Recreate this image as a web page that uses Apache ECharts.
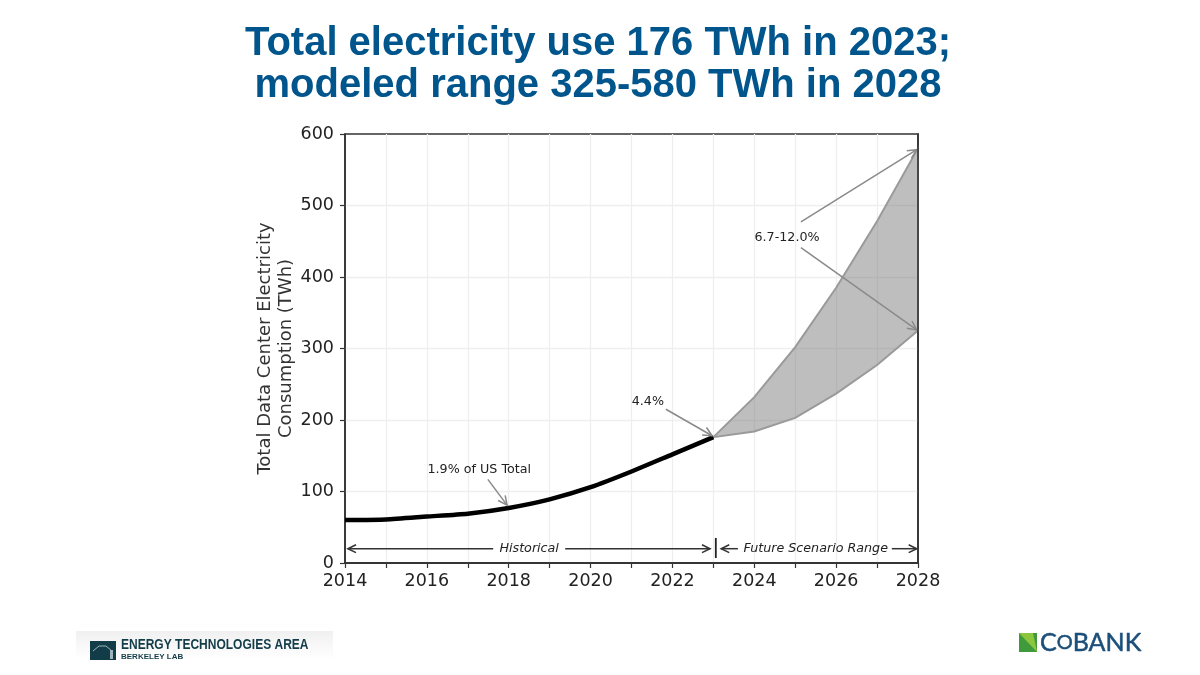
<!DOCTYPE html>
<html><head><meta charset="utf-8">
<style>html,body{margin:0;padding:0;background:#fff}#c{width:1200px;height:675px}</style>
<script src="https://cdn.jsdelivr.net/npm/echarts@6/dist/echarts.min.js"></script>
</head><body><div id="c"></div>
<script>
const histYears = [2014,2015,2016,2017,2018,2019,2020,2021,2022,2023];
const histValues = [60,61,65,69,77,89,106,128,152,176];
const futureYears = [2023,2024,2025,2026,2027,2028];
const lowValues = [176,184,203,237,277,325];
const highValues = [176,232,302,385,478,580];
const grayArrows = [
  [2017.49,117,2017.96,81],
  [2021.84,215,2022.97,178],
  [2025.14,477,2027.97,578],
  [2025.14,441,2027.97,326]
];
const rangeArrows = [
  [2017.62,20,2014.07,20],
  [2019.38,20,2022.92,20],
  [2023.6,20,2023.19,20],
  [2027.36,20,2027.97,20]
];
const notes = [
  ['1.9% of US Total',2017.28,131,false],
  ['4.4%',2021.4,226,false],
  ['6.7-12.0%',2024.8,455,false],
  ['Historical',2018.5,20,true],
  ['Future Scenario Range',2025.5,20,true]
];
const divider = [2023.06,7,2023.06,35];

function arrowRender(color, width, head){
  return function(params, api){
    const a = api.coord([api.value(0),api.value(1)]);
    const b = api.coord([api.value(2),api.value(3)]);
    const t = Math.atan2(b[1]-a[1],b[0]-a[0]);
    const p = s => [b[0]-head*Math.cos(t+s*0.45), b[1]-head*Math.sin(t+s*0.45)];
    return {type:'group',children:[
      {type:'line',shape:{x1:a[0],y1:a[1],x2:b[0],y2:b[1]},style:{stroke:color,lineWidth:width}},
      {type:'polyline',shape:{points:[p(1),b,p(-1)]},style:{stroke:color,lineWidth:width,fill:null}}
    ]};
  };
}
const chart = echarts.init(document.getElementById('c'),null,{renderer:'canvas'});
const bandData = futureYears.map((y,i)=>[y,lowValues[i],highValues[i]]);
const frameLine = {show:true,lineStyle:{color:'#333',width:1.6}};
chart.setOption({
  animation:false,
  backgroundColor:'#fff',
  title:{
    text:'Total electricity use 176 TWh in 2023;\nmodeled range 325-580 TWh in 2028',
    left:593,top:18,textAlign:'center',
    textStyle:{fontFamily:'Liberation Sans',fontWeight:'bold',fontSize:40,lineHeight:42,color:'#00558c'}
  },
  grid:{left:345,right:282,top:134,bottom:112,show:true,borderColor:'#333',borderWidth:1.6,backgroundColor:'transparent'},
  xAxis:[{
    type:'value',min:2014,max:2028,interval:1,
    axisLine:frameLine,
    axisTick:{show:true,length:5,lineStyle:{color:'#333',width:1.2}},
    splitLine:{show:true,showMinLine:false,showMaxLine:false,lineStyle:{color:'#eeeeee',width:1.3}},
    axisLabel:{fontFamily:'DejaVu Sans',fontSize:17.5,color:'#222',margin:9,showMinLabel:true,showMaxLabel:true,
      formatter:v=>v%2===0?String(v):''}
  },{
    type:'value',position:'top',min:2014,max:2028,interval:14,z:10,
    axisLine:frameLine,axisTick:{show:false},axisLabel:{show:false},splitLine:{show:false}
  }],
  yAxis:[{
    type:'value',min:0,max:600,interval:100,
    name:'Total Data Center Electricity\nConsumption (TWh)',
    nameLocation:'middle',nameGap:46,nameRotate:90,
    nameTextStyle:{fontFamily:'DejaVu Sans',fontSize:18,color:'#333',lineHeight:21},
    axisLine:frameLine,
    axisTick:{show:true,length:5,lineStyle:{color:'#333',width:1.2}},
    splitLine:{show:true,showMinLine:false,showMaxLine:false,lineStyle:{color:'#eeeeee',width:1.3}},
    axisLabel:{fontFamily:'DejaVu Sans',fontSize:17.5,color:'#222',margin:11}
  },{
    type:'value',position:'right',min:0,max:600,interval:600,z:10,
    axisLine:frameLine,axisTick:{show:false},axisLabel:{show:false},splitLine:{show:false}
  }],
  series:[
    {type:'custom',name:'Scenario range',coordinateSystem:'cartesian2d',data:[0],z:3,clip:false,
      encode:{x:[],y:[]},
      renderItem:(p,api)=>{
        const top = bandData.map(d=>api.coord([d[0],d[2]]));
        const bot = bandData.map(d=>api.coord([d[0],d[1]])).reverse();
        return {type:'polygon',shape:{points:top.concat(bot)},
          style:{fill:'rgba(120,120,120,0.48)',stroke:'#9a9a9a',lineWidth:2}};
      }},
    {type:'line',name:'Historical',data:histYears.map((y,i)=>[y,histValues[i]]),symbol:'none',z:5,
      lineStyle:{color:'#000',width:4.5},smooth:0.2},
    {type:'custom',name:'Callouts',coordinateSystem:'cartesian2d',data:grayArrows,z:6,clip:false,
      encode:{x:[0,2],y:[1,3]},renderItem:arrowRender('#8a8a8a',1.5,10)},
    {type:'custom',name:'Spans',coordinateSystem:'cartesian2d',data:rangeArrows,z:6,clip:false,
      encode:{x:[0,2],y:[1,3]},renderItem:arrowRender('#333',1.5,9)},
    {type:'line',name:'Divider',data:[[divider[0],divider[1]],[divider[2],divider[3]]],symbol:'none',z:6,
      lineStyle:{color:'#222',width:1.8}},
    {type:'custom',name:'Notes',coordinateSystem:'cartesian2d',data:notes.map(n=>[n[1],n[2]]),z:7,clip:false,
      encode:{x:0,y:1},
      renderItem:(p,api)=>{
        const n = notes[p.dataIndex], c = api.coord([n[1],n[2]]);
        return {type:'text',style:{text:n[0],x:c[0],y:c[1],align:'center',verticalAlign:'middle',
          font:(n[3]?'italic ':'')+'12.7px "DejaVu Sans"',fill:'#222'}};
      }}
  ],
  graphic:[
    {type:'rect',shape:{x:76,y:631,width:257,height:28},z:1,
      style:{fill:new echarts.graphic.LinearGradient(0,0,0,1,[{offset:0,color:'#f0f0f0'},{offset:1,color:'#ffffff'}])}},
    {type:'rect',shape:{x:90,y:641,width:26,height:19},z:2,style:{fill:'#123c48'}},
    {type:'polyline',shape:{points:[[93,651],[99,646],[106,646],[112,651]]},z:3,style:{stroke:'#9fb4ba',lineWidth:1,fill:null}},
    {type:'rect',shape:{x:110,y:650,width:3,height:9},z:3,style:{fill:'#9fb4ba'}},
    {type:'text',x:121,y:638,z:3,scaleX:0.858,style:{text:'ENERGY TECHNOLOGIES AREA',font:'bold 14px "Liberation Sans"',fill:'#123c48'}},
    {type:'text',x:121,y:653,z:3,style:{text:'BERKELEY LAB',font:'bold 8px "Liberation Sans"',fill:'#123c48',letterSpacing:0.2}},
    {type:'polygon',shape:{points:[[1019,633],[1037,633],[1037,652],[1019,652]]},z:2,style:{fill:'#3f9a3c'}},
    {type:'polygon',shape:{points:[[1019,633],[1033,633],[1037,652]]},z:3,style:{fill:'#8cc63f'}},
    {type:'text',x:1040,y:630,z:3,style:{
      text:'{a|C}{b|O}{a|BANK}',stroke:'#1b4f7a',lineWidth:0.4,
      rich:{a:{fontFamily:'Lato',fontSize:25,fill:'#1b4f7a',stroke:'#1b4f7a',lineWidth:0.5},b:{fontFamily:'Lato',fontSize:20,fill:'#1b4f7a',stroke:'#1b4f7a',lineWidth:0.5}}}}
  ]
});
</script></body></html>
